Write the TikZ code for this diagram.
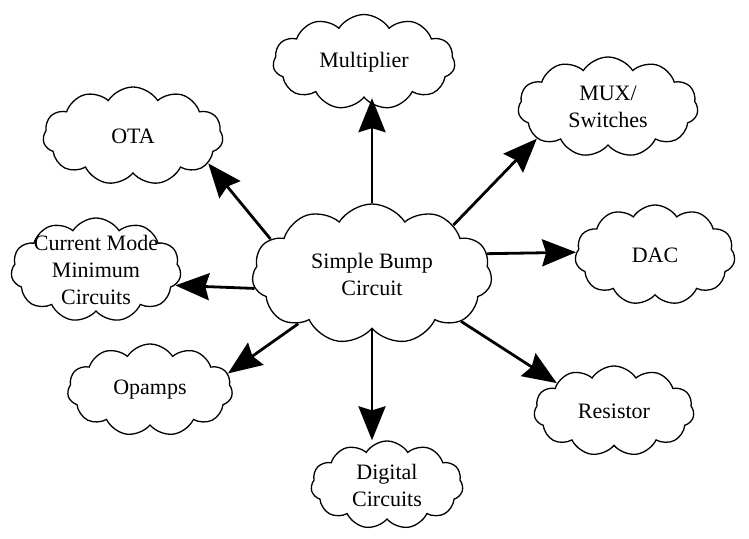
\documentclass[tikz,border=0pt]{standalone}
\usepackage{fontspec}
\setmainfont{Liberation Serif}
\usetikzlibrary{shapes.symbols, arrows.meta, positioning}

\begin{document}
\begin{tikzpicture}[x=1pt, y=-1pt,
  every node/.style={cloud, draw, cloud puffs=11, cloud puff arc=115,
    cloud ignores aspect, inner sep=0pt, line width=1.3pt,
    align=center, font=\fontsize{22}{27}\selectfont},
  link/.style={draw, -{Stealth[length=34pt, width=27pt, inset=4pt]},
    line width=2.8pt}
]
\useasboundingbox (0,0) rectangle (749,538);

\node[minimum width=240pt, minimum height=140pt] (simpleBump) at (372,274) {Simple Bump\\Circuit};
\node[minimum width=182pt, minimum height=95pt] (multiplier) at (364,62) {Multiplier};
\node[minimum width=180pt, minimum height=100pt] (muxSwitches) at (608,107) {MUX/\\Switches};
\node[minimum width=180pt, minimum height=98pt] (ota) at (133,136) {OTA};
\node[minimum width=170pt, minimum height=104pt, inner sep=-12pt] (currentMode) at (96,270) {Current Mode\\Minimum\\Circuits};
\node[minimum width=160pt, minimum height=100pt] (dac) at (655,255) {DAC};
\node[minimum width=160pt, minimum height=90pt] (resistor) at (614,411) {Resistor};
\node[minimum width=165pt, minimum height=92pt] (opamps) at (150,390) {Opamps};
\node[minimum width=152pt, minimum height=88pt] (digital) at (387,485) {Digital\\Circuits};

\draw[link] (simpleBump.90) -- (simpleBump.90 |- multiplier.south);
\draw[link] (simpleBump.31) -- (muxSwitches.-156);
\draw[link] (simpleBump.161) -- (ota.-20);
\draw[link] (simpleBump.187) -- (currentMode.-11);
\draw[link] (simpleBump.10) -- (dac.178);
\draw[link] (simpleBump.-28) -- (resistor.154);
\draw[link] (simpleBump.214) -- (opamps.12);
\draw[link] (simpleBump.-90) -- (simpleBump.-90 |- digital.north);

\end{tikzpicture}
\end{document}
